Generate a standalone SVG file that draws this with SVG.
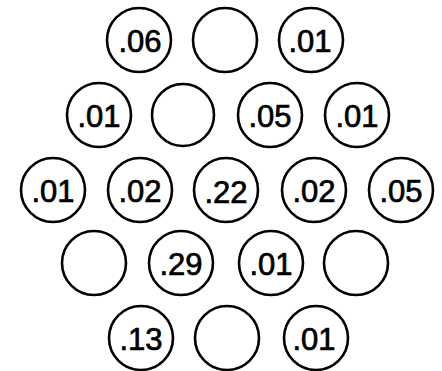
<svg xmlns="http://www.w3.org/2000/svg" width="442" height="371" viewBox="0 0 442 371">
<style>
.c{fill:#fff;stroke:#000;stroke-width:2.6}
.t{font-family:"Liberation Sans",Arial,sans-serif;font-size:31px;text-anchor:middle;fill:#000;stroke:#000;stroke-width:0.7}
</style>
<rect width="442" height="371" fill="#fff"/>
<g id="n1"><circle class="c" cx="139" cy="40" r="32"/><text class="t" x="140" y="52">.06</text></g>
<g id="n2"><circle class="c" cx="225" cy="40" r="32"/></g>
<g id="n3"><circle class="c" cx="311" cy="40" r="32"/><text class="t" x="310" y="52">.01</text></g>
<g id="n4"><circle class="c" cx="99" cy="115" r="32"/><text class="t" x="99" y="127">.01</text></g>
<g id="n5"><circle class="c" cx="183" cy="115" r="31"/></g>
<g id="n6"><circle class="c" cx="270" cy="115" r="32"/><text class="t" x="270" y="127">.05</text></g>
<g id="n7"><circle class="c" cx="357" cy="115" r="32"/><text class="t" x="357" y="127">.01</text></g>
<g id="n8"><circle class="c" cx="53" cy="190" r="32"/><text class="t" x="53" y="202">.01</text></g>
<g id="n9"><circle class="c" cx="140" cy="190" r="32"/><text class="t" x="140" y="202">.02</text></g>
<g id="n10"><circle class="c" cx="226" cy="190" r="32"/><text class="t" x="226" y="203">.22</text></g>
<g id="n11"><circle class="c" cx="314" cy="190" r="32"/><text class="t" x="314" y="202">.02</text></g>
<g id="n12"><circle class="c" cx="401" cy="190" r="32"/><text class="t" x="401" y="202">.05</text></g>
<g id="n13"><circle class="c" cx="94" cy="263" r="32"/></g>
<g id="n14"><circle class="c" cx="181" cy="263" r="32"/><text class="t" x="181" y="275">.29</text></g>
<g id="n15"><circle class="c" cx="271" cy="263" r="32"/><text class="t" x="271" y="275">.01</text></g>
<g id="n16"><circle class="c" cx="356" cy="263" r="32"/></g>
<g id="n17"><circle class="c" cx="141" cy="338" r="32"/><text class="t" x="141" y="350">.13</text></g>
<g id="n18"><circle class="c" cx="227" cy="338" r="32"/></g>
<g id="n19"><circle class="c" cx="316" cy="338" r="32"/><text class="t" x="314" y="350">.01</text></g>
<g id="connectors"></g>
</svg>
